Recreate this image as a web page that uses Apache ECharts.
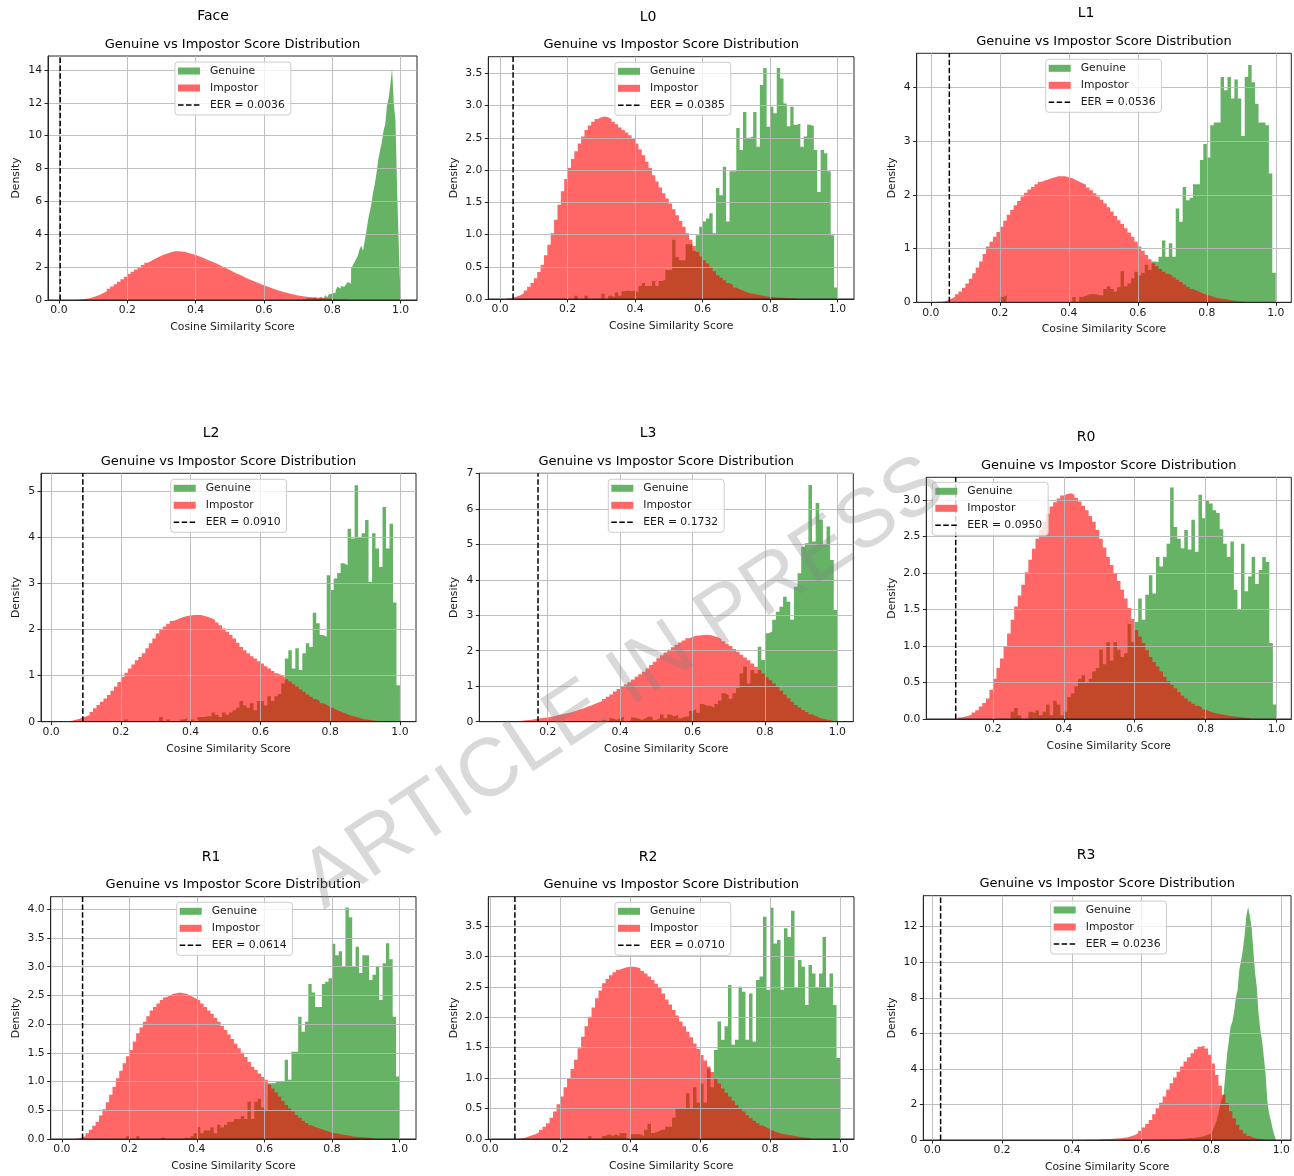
<!DOCTYPE html>
<html><head><meta charset="utf-8">
<script src="https://cdn.jsdelivr.net/npm/echarts@6/dist/echarts.min.js"></script>
<style>html,body{margin:0;padding:0;background:#fff}#c{width:1294px;height:1176px}</style>
</head><body><div id="c"></div><script>
// ---------------- DATA ----------------
const panelNames = ['Face','L0','L1','L2','L3','R0','R1','R2','R3'];
const eerValues = [0.0036, 0.0385, 0.0536, 0.0910, 0.1732, 0.0950, 0.0614, 0.0710, 0.0236];
const xTickValues = [0.0, 0.2, 0.4, 0.6, 0.8, 1.0];

const faceYTicks = [0,2,4,6,8,10,12,14];
const l0YTicks = [0,0.5,1,1.5,2,2.5,3,3.5];
const l1YTicks = [0,1,2,3,4];
const l2YTicks = [0,1,2,3,4,5];
const l3YTicks = [0,1,2,3,4,5,6,7];
const r0YTicks = [0,0.5,1,1.5,2,2.5,3];
const r1YTicks = [0,0.5,1,1.5,2,2.5,3,3.5,4];
const r2YTicks = [0,0.5,1,1.5,2,2.5,3,3.5];
const r3YTicks = [0,2,4,6,8,10,12];

// histogram bins: first bin left edge, bin width, densities
const faceImpStart = 0.05, faceImpBin = 0.01;
const faceImp = [0.02,0.04,0.07,0.11,0.17,0.24,0.32,0.42,0.54,0.68,0.82,0.96,1.11,1.26,1.42,1.58,1.72,1.86,2.00,2.13,2.26,2.38,2.50,2.60,2.70,2.78,2.85,2.92,2.96,2.97,2.95,2.92,2.86,2.80,2.74,2.67,2.58,2.50,2.41,2.32,2.23,2.13,2.03,1.93,1.83,1.72,1.62,1.53,1.43,1.33,1.24,1.15,1.06,0.98,0.90,0.82,0.74,0.67,0.60,0.53,0.47,0.42,0.37,0.32,0.28,0.25,0.22,0.19,0.17,0.15,0.13,0.11,0.10,0.08,0.07,0.06,0.05,0.04,0.03,0.02];
const faceGenStart = 0.70, faceGenBin = 0.005;
const faceGen = [0.05,0.00,0.05,0.05,0.00,0.10,0.05,0.10,0.05,0.15,0.10,0.05,0.15,0.20,0.10,0.20,0.30,0.15,0.35,0.40,0.50,0.45,0.60,0.80,0.70,0.85,0.80,0.90,0.95,1.10,1.00,1.90,2.10,2.30,2.50,2.70,3.10,3.30,3.00,3.60,4.20,4.90,5.40,5.90,6.60,7.10,7.80,8.60,9.10,9.60,10.3,10.7,11.8,12.3,13.1,14.1,12.0,10.9,6.6,3.1];

const l0ImpStart = 0.02, l0ImpBin = 0.01;
const l0Imp = [0.01,0.02,0.04,0.06,0.09,0.13,0.19,0.25,0.32,0.42,0.53,0.68,0.84,1.02,1.23,1.46,1.67,1.86,2.03,2.17,2.29,2.41,2.52,2.62,2.69,2.75,2.79,2.82,2.83,2.82,2.79,2.75,2.71,2.66,2.62,2.58,2.54,2.48,2.41,2.32,2.23,2.13,2.03,1.92,1.82,1.73,1.64,1.56,1.48,1.39,1.30,1.21,1.12,1.02,0.92,0.82,0.73,0.66,0.60,0.55,0.50,0.43,0.37,0.33,0.29,0.25,0.22,0.18,0.15,0.13,0.11,0.09,0.08,0.07,0.06,0.05,0.04,0.035,0.03,0.025,0.02,0.018,0.015,0.012,0.01,0.008];
const l0GenStart = 0.22, l0GenBin = 0.01;
const l0Gen = [0.05,0,0,0.05,0,0,0,0,0.08,0,0.05,0.03,0.1,0.05,0.12,0.13,0.12,0.13,0.1,0.2,0.25,0.2,0.2,0.28,0.2,0.28,0.3,0.45,0.45,0.92,0.65,0.6,0.6,0.85,0.85,0.75,0.99,1.12,1.2,1.25,1.33,1.02,1.72,1.61,2.05,1.2,1.98,1.98,2.65,2.31,2.9,2.5,2.52,2.9,2.36,3.32,3.58,2.67,2.98,2.88,3.58,3.42,3.03,2.68,2.98,2.7,2.72,2.36,2.52,2.7,2.68,2.31,1.66,2.31,2.26,1.98,0.99,0.18];

const l1ImpStart = 0.02, l1ImpBin = 0.01;
const l1Imp = [0.01,0.02,0.04,0.07,0.10,0.15,0.20,0.27,0.35,0.44,0.54,0.65,0.76,0.90,1.04,1.13,1.22,1.31,1.41,1.52,1.63,1.72,1.81,1.89,1.97,2.04,2.10,2.15,2.20,2.24,2.27,2.29,2.31,2.33,2.35,2.35,2.35,2.33,2.31,2.28,2.25,2.22,2.19,2.14,2.09,2.03,1.97,1.91,1.84,1.77,1.69,1.61,1.53,1.46,1.38,1.30,1.22,1.13,1.04,0.96,0.88,0.80,0.73,0.67,0.62,0.57,0.53,0.50,0.46,0.42,0.38,0.33,0.29,0.25,0.22,0.19,0.16,0.14,0.12,0.10,0.08,0.07,0.06,0.05,0.04,0.03,0.02,0.015,0.01,0.005];
const l1GenStart = 0.20, l1GenBin = 0.01;
const l1Gen = [0.1,0.13,0,0,0,0,0,0,0,0,0,0,0,0,0,0,0,0,0,0,0,0.1,0,0.1,0.12,0.15,0.15,0.15,0.13,0.13,0.25,0.3,0.25,0.2,0.28,0.58,0.3,0.35,0.45,0.57,0.5,0.55,0.7,0.6,0.76,0.75,0.85,1.15,0.85,1.1,0.85,1.75,1.5,2.15,1.9,1.95,2.2,2.2,2.65,2.95,2.7,3.3,3.35,3.35,4.2,3.95,4.2,3.8,4.15,3.8,3.1,4.2,4.42,4.1,3.7,3.35,3.35,3.3,2.4,0.55];

const l2ImpStart = 0.04, l2ImpBin = 0.01;
const l2Imp = [0.01,0.02,0.04,0.06,0.09,0.11,0.14,0.21,0.29,0.36,0.43,0.50,0.58,0.67,0.76,0.86,0.97,1.06,1.15,1.24,1.33,1.40,1.48,1.59,1.70,1.80,1.91,1.99,2.06,2.12,2.18,2.21,2.24,2.27,2.29,2.30,2.31,2.31,2.31,2.29,2.27,2.24,2.20,2.15,2.09,2.02,1.95,1.88,1.80,1.71,1.62,1.55,1.48,1.42,1.37,1.31,1.26,1.20,1.15,1.10,1.05,1.01,0.97,0.92,0.87,0.81,0.76,0.70,0.65,0.59,0.54,0.49,0.45,0.40,0.36,0.32,0.29,0.25,0.22,0.19,0.16,0.13,0.11,0.09,0.07,0.05,0.04,0.03,0.02,0.015,0.01,0.005];
const l2GenStart = 0.21, l2GenBin = 0.01;
const l2Gen = [0.05,0,0,0,0,0,0,0,0,0,0.1,0,0.05,0,0,0,0.05,0.08,0,0.05,0,0.1,0.1,0.12,0.12,0.2,0.15,0.1,0.2,0.15,0.2,0.25,0.3,0.45,0.35,0.3,0.4,0.25,0.45,0.45,0.35,0.55,0.45,0.55,0.6,0.83,1.37,1.55,1.15,1.59,1.12,1.48,1.7,1.62,2.36,2.13,1.88,1.84,3.17,2.85,3.1,3.22,3.43,3.39,4.18,3.97,5.12,4.0,4.08,4.37,3.03,4.08,3.75,3.35,4.65,3.75,4.29,2.58,0.79];

const l3ImpStart = 0.10, l3ImpBin = 0.01;
const l3Imp = [0.01,0.02,0.03,0.04,0.05,0.06,0.08,0.09,0.11,0.12,0.14,0.16,0.19,0.21,0.23,0.25,0.28,0.31,0.35,0.38,0.42,0.46,0.50,0.54,0.58,0.64,0.70,0.77,0.85,0.92,0.99,1.05,1.11,1.19,1.27,1.34,1.41,1.50,1.60,1.69,1.79,1.87,1.95,2.03,2.10,2.17,2.23,2.29,2.35,2.39,2.42,2.43,2.44,2.45,2.44,2.41,2.38,2.33,2.27,2.20,2.13,2.05,1.97,1.89,1.81,1.73,1.64,1.55,1.46,1.36,1.25,1.17,1.08,0.98,0.87,0.77,0.66,0.56,0.47,0.40,0.33,0.27,0.21,0.16,0.11,0.08,0.06,0.04,0.02];
const l3GenStart = 0.35, l3GenBin = 0.01;
const l3Gen = [0.05,0,0.1,0.05,0.1,0.15,0,0.05,0.12,0.1,0.05,0.1,0.15,0.12,0.05,0.1,0.2,0.1,0.2,0.15,0.2,0.1,0.15,0.15,0.3,0.35,0.25,0.5,0.45,0.45,0.4,0.5,0.6,0.8,0.75,0.65,0.8,0.95,1.36,1.55,1.08,1.46,1.36,2.11,1.74,2.49,2.54,2.87,3.1,3.24,3.52,3.38,2.87,3.8,4.18,4.93,5.03,6.67,5.08,6.16,5.69,4.98,5.5,4.56,3.15];

const r0ImpStart = 0.10, r0ImpBin = 0.01;
const r0Imp = [0.02,0.03,0.04,0.06,0.09,0.12,0.17,0.22,0.28,0.40,0.55,0.70,0.83,1.00,1.17,1.36,1.54,1.69,1.84,2.01,2.18,2.33,2.47,2.59,2.70,2.81,2.91,2.97,3.02,3.06,3.08,3.09,3.07,3.03,2.98,2.92,2.86,2.78,2.70,2.59,2.47,2.35,2.22,2.11,2.00,1.89,1.77,1.65,1.52,1.37,1.22,1.13,1.04,0.94,0.85,0.78,0.72,0.65,0.58,0.52,0.47,0.42,0.37,0.32,0.28,0.24,0.21,0.18,0.16,0.13,0.11,0.09,0.08,0.07,0.06,0.05,0.04,0.035,0.03,0.025,0.02,0.015,0.01];
const r0GenStart = 0.25, r0GenBin = 0.01;
const r0Gen = [0.1,0.15,0.05,0,0,0.1,0.08,0.12,0.05,0.1,0.2,0.05,0.25,0.2,0.05,0.1,0.3,0.35,0.45,0.55,0.6,0.5,0.55,0.65,0.7,0.95,0.75,1.05,0.8,1.05,0.95,0.85,0.9,1.3,1.05,1.33,1.65,1.36,1.7,1.97,1.72,2.22,2.09,2.22,2.4,3.17,2.63,2.47,2.34,2.59,2.32,2.73,2.29,3.07,2.75,2.99,2.95,2.86,2.82,2.6,2.4,2.22,2.43,1.77,1.5,2.4,1.75,1.95,2.22,1.85,2.04,2.22,2.15,1.04,0.2];

const r1ImpStart = 0.04, r1ImpBin = 0.01;
const r1Imp = [0.01,0.03,0.05,0.10,0.16,0.23,0.30,0.41,0.52,0.64,0.77,0.91,1.06,1.19,1.32,1.44,1.55,1.70,1.84,1.94,2.04,2.14,2.24,2.30,2.36,2.42,2.47,2.50,2.53,2.54,2.55,2.54,2.53,2.50,2.47,2.44,2.41,2.36,2.30,2.24,2.18,2.11,2.04,1.97,1.90,1.82,1.74,1.66,1.58,1.50,1.43,1.34,1.26,1.20,1.14,1.08,1.03,0.95,0.88,0.81,0.74,0.66,0.59,0.53,0.48,0.42,0.37,0.32,0.28,0.24,0.21,0.19,0.17,0.15,0.13,0.11,0.10,0.09,0.08,0.07,0.06,0.05,0.04,0.035,0.03,0.025,0.02,0.015,0.01];
const r1GenStart = 0.19, r1GenBin = 0.01;
const r1Gen = [0.05,0,0,0.05,0,0,0,0,0,0,0.03,0,0,0,0,0,0,0.03,0,0.05,0.1,0.21,0.1,0.15,0.15,0.2,0.1,0.25,0.2,0.25,0.3,0.3,0.35,0.35,0.4,0.35,0.65,0.35,0.65,0.7,0.55,0.5,0.97,0.97,1.0,1.0,1.0,1.38,1.03,1.52,1.52,2.13,1.87,2.04,2.7,2.55,2.3,2.3,2.7,2.74,2.8,3.4,3.2,3.27,3.0,4.03,3.86,3.0,3.35,2.89,3.2,3.2,2.77,2.86,3.0,2.42,3.06,3.41,3.13,2.13,1.09];

const r2ImpStart = 0.08, r2ImpBin = 0.01;
const r2Imp = [0.01,0.02,0.04,0.06,0.08,0.11,0.15,0.20,0.26,0.35,0.45,0.57,0.70,0.85,1.00,1.15,1.30,1.49,1.68,1.85,2.01,2.16,2.31,2.44,2.56,2.63,2.69,2.74,2.78,2.80,2.82,2.83,2.83,2.82,2.80,2.76,2.72,2.67,2.61,2.55,2.48,2.39,2.29,2.21,2.12,2.03,1.93,1.85,1.76,1.67,1.57,1.48,1.38,1.29,1.19,1.10,1.00,0.91,0.83,0.76,0.70,0.63,0.56,0.50,0.45,0.39,0.34,0.30,0.26,0.22,0.19,0.16,0.13,0.11,0.09,0.08,0.07,0.06,0.05,0.04,0.03,0.025,0.02,0.01];
const r2GenStart = 0.28, r2GenBin = 0.01;
const r2Gen = [0.05,0,0,0,0.05,0.08,0.05,0.08,0.05,0.1,0.1,0,0.08,0.08,0.08,0.05,0.15,0.25,0.1,0.12,0.15,0.15,0.2,0.2,0.35,0.5,0.5,0.5,0.75,0.5,0.85,0.6,0.91,0.6,1.16,0.85,1.46,1.93,1.63,1.85,2.53,1.55,1.63,2.5,2.42,1.63,2.39,1.6,2.61,2.67,3.65,2.45,3.8,3.21,3.27,2.45,3.46,3.32,3.75,2.48,2.94,2.83,2.2,2.86,2.72,2.48,2.72,3.32,2.48,2.72,2.2,1.33];

const r3ImpStart = 0.44, r3ImpBin = 0.01;
const r3Imp = [0.01,0.02,0.02,0.03,0.04,0.05,0.06,0.07,0.08,0.10,0.13,0.16,0.21,0.28,0.38,0.52,0.70,0.90,1.13,1.45,1.78,2.10,2.44,2.82,3.19,3.52,3.84,4.13,4.41,4.66,4.88,5.10,5.25,5.30,5.15,4.80,4.30,3.65,3.05,2.55,2.06,1.62,1.22,0.86,0.56,0.36,0.22,0.13,0.08,0.05,0.03,0.01];
const r3GenStart = 0.60, r3GenBin = 0.005;
const r3Gen = [0.01,0.01,0.02,0.01,0.02,0.02,0.02,0.03,0.02,0.03,0.03,0.04,0.03,0.04,0.05,0.04,0.05,0.06,0.05,0.06,0.07,0.06,0.08,0.07,0.09,0.10,0.09,0.11,0.12,0.11,0.13,0.15,0.14,0.17,0.19,0.22,0.25,0.30,0.34,0.38,0.45,0.60,0.85,1.10,1.50,2.00,2.30,2.60,3.75,4.88,5.60,6.38,6.66,7.20,8.00,8.44,9.60,10.1,10.7,11.5,12.6,13.1,12.6,12.0,10.7,9.4,8.6,7.1,6.2,5.6,4.7,3.75,2.25,1.5,1.13,0.66,0.28];

// ---------------- LAYOUT (positions only) ----------------
const panels = [
  {gen:[faceGenStart,faceGenBin,faceGen], imp:[faceImpStart,faceImpBin,faceImp], yTicks:faceYTicks, yDec:0, grid:[48,56,369,244], x:[-0.032,1.048], yMax:14.85, title:[213,16], leg:[175,62], yGap:26.5},
  {gen:[l0GenStart,l0GenBin,l0Gen], imp:[l0ImpStart,l0ImpBin,l0Imp], yTicks:l0YTicks, yDec:1, grid:[488.3,56.7,365.7,242.3], x:[-0.035,1.049], yMax:3.757, title:[648,17], leg:[615,62.3], yGap:28.5},
  {gen:[l1GenStart,l1GenBin,l1Gen], imp:[l1ImpStart,l1ImpBin,l1Imp], yTicks:l1YTicks, yDec:0, grid:[916.7,53.3,374.6,249], x:[-0.041,1.045], yMax:4.64, title:[1086,13], leg:[1045.7,59.3], yGap:19.5},
  {gen:[l2GenStart,l2GenBin,l2Gen], imp:[l2ImpStart,l2ImpBin,l2Imp], yTicks:l2YTicks, yDec:0, grid:[41,473.3,375,248.4], x:[-0.029,1.046], yMax:5.38, title:[211,433], leg:[170.7,479.3], yGap:19.5},
  {gen:[l3GenStart,l3GenBin,l3Gen], imp:[l3ImpStart,l3ImpBin,l3Imp], yTicks:l3YTicks, yDec:0, grid:[479.3,473.3,374,248.4], x:[0.011,1.044], yMax:7, title:[648,433], leg:[608.3,479.3], yGap:19.5},
  {gen:[r0GenStart,r0GenBin,r0Gen], imp:[r0ImpStart,r0ImpBin,r0Imp], yTicks:r0YTicks, yDec:1, grid:[926.3,477.3,365,241.7], x:[0.012,1.042], yMax:3.31, title:[1086,437], leg:[932.3,482.3], yGap:28.5},
  {gen:[r1GenStart,r1GenBin,r1Gen], imp:[r1ImpStart,r1ImpBin,r1Imp], yTicks:r1YTicks, yDec:1, grid:[50.7,896.7,365.3,242.3], x:[-0.033,1.049], yMax:4.22, title:[211,857], leg:[176.7,902.3], yGap:29},
  {gen:[r2GenStart,r2GenBin,r2Gen], imp:[r2ImpStart,r2ImpBin,r2Imp], yTicks:r2YTicks, yDec:1, grid:[488.3,896.7,365.7,242.3], x:[-0.005,1.04], yMax:3.98, title:[648,857], leg:[615,902.3], yGap:28.5},
  {gen:[r3GenStart,r3GenBin,r3Gen], imp:[r3ImpStart,r3ImpBin,r3Imp], yTicks:r3YTicks, yDec:0, grid:[923.3,895.7,367.7,244.3], x:[-0.026,1.028], yMax:13.74, title:[1086,855], leg:[1050.7,901], yGap:25.5}
];

const FONT = 'DejaVu Sans';
const TXT = '#1a1a1a';
// dashed-line legend glyph (22 x 7 box, three dashes in the middle)
const DASH_ICON = 'path://M0,0h0.01v0.01h-0.01zM0,2.75h5.55v1.5h-5.55zM7.95,2.75h5.55v1.5h-5.55zM15.9,2.75h5.55v1.5h-5.55zM21.99,6.99h0.01v0.01h-0.01z';

function histPoints(start, width, values) {
  const pts = values.map((v, i) => [+(start + i * width).toFixed(5), v]);
  pts.push([+(start + values.length * width).toFixed(5), 0]);
  return pts;
}

const grids = [], xAxes = [], yAxes = [], series = [], legends = [], graphics = [];

panels.forEach((p, i) => {
  const [gl, gt, gw, gh] = p.grid;
  grids.push({left: gl, top: gt, width: gw, height: gh, show: true, borderColor: '#262626', borderWidth: 1, backgroundColor: 'transparent', z: 3});
  const xt = xTickValues.filter(v => v >= p.x[0] && v <= p.x[1]);
  xAxes.push({
    type: 'value', gridIndex: i, min: p.x[0], max: p.x[1], minInterval: 0.2, maxInterval: 0.2, z: 3,
    axisLine: {show: true, onZero: false, lineStyle: {color: '#262626', width: 1}},
    axisTick: {show: true, length: 3.5, lineStyle: {color: '#262626', width: 1}, customValues: xt},
    axisLabel: {customValues: xt, formatter: v => Number(v).toFixed(1), fontSize: 10.8, color: TXT, fontFamily: FONT, margin: 5},
    splitLine: {show: true, lineStyle: {color: '#b8b8b8', width: 0.9}},
    name: 'Cosine Similarity Score', nameLocation: 'middle', nameGap: 21.5,
    nameTextStyle: {fontSize: 10.8, color: TXT, fontFamily: FONT}
  });
  const step = p.yTicks[1] - p.yTicks[0];
  yAxes.push({
    type: 'value', gridIndex: i, min: 0, max: p.yMax, minInterval: step, maxInterval: step, z: 3,
    axisLine: {show: true, onZero: false, lineStyle: {color: '#262626', width: 1}},
    axisTick: {show: true, length: 3.5, lineStyle: {color: '#262626', width: 1}, customValues: p.yTicks},
    axisLabel: {customValues: p.yTicks, formatter: v => Number(v).toFixed(p.yDec), fontSize: 10.8, color: TXT, fontFamily: FONT, margin: 6},
    splitLine: {show: true, lineStyle: {color: '#b8b8b8', width: 0.9}},
    name: 'Density', nameLocation: 'middle', nameGap: p.yGap, nameRotate: 90,
    nameTextStyle: {fontSize: 10.8, color: TXT, fontFamily: FONT}
  });
  const eerName = 'EER = ' + eerValues[i].toFixed(4);
  series.push({
    type: 'line', name: 'Genuine', xAxisIndex: i, yAxisIndex: i, step: 'end', symbol: 'none', silent: true,
    data: histPoints(p.gen[0], p.gen[1], p.gen[2]),
    lineStyle: {width: 0, opacity: 0}, itemStyle: {color: '#008000'},
    areaStyle: {color: '#008000', opacity: 0.6}, z: 2
  });
  series.push({
    type: 'line', name: 'Impostor', xAxisIndex: i, yAxisIndex: i, step: 'end', symbol: 'none', silent: true,
    data: histPoints(p.imp[0], p.imp[1], p.imp[2]),
    lineStyle: {width: 0, opacity: 0}, itemStyle: {color: '#ff0000'},
    areaStyle: {color: '#ff0000', opacity: 0.6}, z: 2
  });
  series.push({
    type: 'line', name: eerName, xAxisIndex: i, yAxisIndex: i, symbol: 'none', silent: true,
    data: [[eerValues[i], 0], [eerValues[i], p.yMax]],
    lineStyle: {color: '#000', width: 1.5, type: [5.5, 2.4]}, itemStyle: {color: '#000'}, z: 5
  });
  legends.push({
    left: p.leg[0], top: p.leg[1], orient: 'vertical', selectedMode: false,
    itemWidth: 22, itemHeight: 7, itemGap: 3, padding: [2, 6, 3, 3],
    backgroundColor: 'rgba(255,255,255,0.8)', borderColor: '#cccccc', borderWidth: 1, borderRadius: 3,
    textStyle: {fontSize: 10.8, color: TXT, fontFamily: FONT, lineHeight: 14, padding: [0, 0, 0, 5]},
    z: 6,
    data: [
      {name: 'Genuine', icon: 'rect', itemStyle: {color: '#66b366', borderWidth: 0, opacity: 1}},
      {name: 'Impostor', icon: 'rect', itemStyle: {color: '#ff6666', borderWidth: 0, opacity: 1}},
      {name: eerName, icon: DASH_ICON, itemStyle: {color: '#000', borderWidth: 0, opacity: 1}}
    ]
  });
  const subY = gt - 11.7;
  graphics.push({type: 'text', x: p.title[0], y: p.title[1], silent: true,
    style: {text: panelNames[i], fontSize: 14, fontFamily: FONT, fill: '#000', align: 'center', verticalAlign: 'middle', textAlign: 'center', textVerticalAlign: 'middle'}});
  graphics.push({type: 'text', x: gl + gw / 2, y: subY, silent: true,
    style: {text: 'Genuine vs Impostor Score Distribution', fontSize: 13, fontFamily: FONT, fill: '#000', align: 'center', verticalAlign: 'middle', textAlign: 'center', textVerticalAlign: 'middle'}});
});

graphics.push({type: 'text', x: 624, y: 684, rotation: 0.585, z: 100, silent: true,
  style: {text: 'ARTICLE IN PRESS', fontSize: 82, fontFamily: 'Liberation Sans', fill: 'rgba(128,128,128,0.3)', align: 'center', verticalAlign: 'middle', textAlign: 'center', textVerticalAlign: 'middle'}});

const chart = echarts.init(document.getElementById('c'), null, {renderer: 'canvas'});
chart.setOption({
  animation: false,
  backgroundColor: '#ffffff',
  grid: grids, xAxis: xAxes, yAxis: yAxes, series: series, legend: legends,
  graphic: graphics
});
</script></body></html>
